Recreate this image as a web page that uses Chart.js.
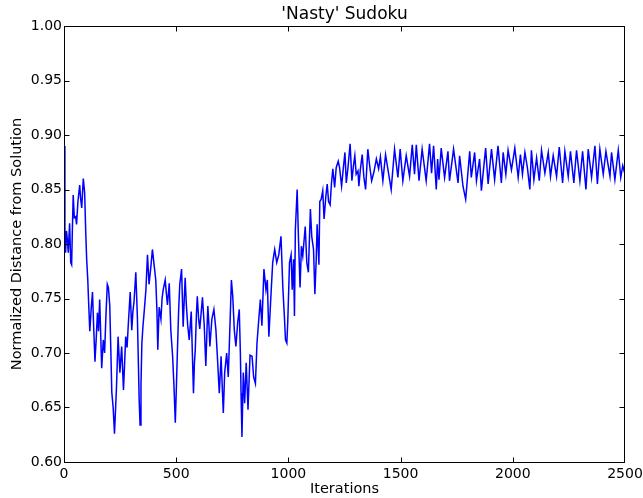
<!DOCTYPE html>
<html>
<head>
<meta charset="utf-8">
<script src="https://cdn.jsdelivr.net/npm/chart.js@4.4.1/dist/chart.umd.min.js"></script>
<style>
  html, body { margin: 0; padding: 0; background: #fff; }
  #wrap { width: 643px; height: 498px; }
</style>
</head>
<body>
<div id="wrap"><canvas id="chart" width="643" height="498"></canvas></div>
<script>
// [iteration, normalized distance], one array per phase
const phaseStart = [
  [0, 0.890], [4, 0.800], [7, 0.792], [11, 0.812], [15, 0.804], [19, 0.792], [25, 0.819],
  [30, 0.783], [34, 0.781], [37, 0.810], [41, 0.845], [46, 0.824], [52, 0.825], [56, 0.818],
  [62, 0.839], [70, 0.854], [74, 0.842], [79, 0.833], [86, 0.860], [92, 0.847], [97, 0.810],
  [101, 0.786], [106, 0.767], [110, 0.745]
];
const phaseValley = [
  [115, 0.720], [121, 0.740], [127, 0.756], [132, 0.725], [138, 0.692], [144, 0.715],
  [149, 0.737], [154, 0.720], [159, 0.749], [168, 0.686], [175, 0.712], [181, 0.700],
  [187, 0.735], [193, 0.763], [198, 0.760], [204, 0.743], [209, 0.700], [213, 0.664],
  [219, 0.650], [225, 0.626], [230, 0.650], [234, 0.669], [241, 0.715], [249, 0.682],
  [257, 0.706], [265, 0.666], [270, 0.690], [275, 0.715], [281, 0.705], [287, 0.728],
  [295, 0.756], [302, 0.721], [307, 0.738], [312, 0.747], [320, 0.774], [327, 0.733],
  [335, 0.657], [339, 0.634], [343, 0.670], [347, 0.709], [352, 0.725], [357, 0.737],
  [365, 0.758], [372, 0.790], [379, 0.763], [387, 0.779], [394, 0.795], [402, 0.780],
  [409, 0.767], [414, 0.740], [418, 0.703], [424, 0.742], [432, 0.731], [437, 0.750],
  [442, 0.758], [451, 0.767], [456, 0.755], [461, 0.744], [469, 0.764], [476, 0.721],
  [484, 0.697], [490, 0.670], [496, 0.636], [501, 0.670], [506, 0.706], [511, 0.740],
  [516, 0.763], [524, 0.777], [531, 0.724], [536, 0.750], [540, 0.769], [545, 0.745],
  [551, 0.726], [558, 0.712], [567, 0.738], [572, 0.700], [577, 0.663], [581, 0.690],
  [585, 0.703], [590, 0.735], [594, 0.752], [600, 0.731], [605, 0.722], [610, 0.734],
  [617, 0.751], [625, 0.725], [632, 0.688], [637, 0.720], [641, 0.743], [646, 0.725],
  [650, 0.706], [655, 0.720], [659, 0.731], [668, 0.740], [677, 0.721], [685, 0.691],
  [692, 0.663], [700, 0.697], [705, 0.670], [710, 0.645], [716, 0.682], [725, 0.700],
  [732, 0.678], [740, 0.728], [746, 0.767], [752, 0.752], [759, 0.721], [766, 0.706],
  [774, 0.728], [781, 0.740], [786, 0.700], [789, 0.663], [793, 0.623], [799, 0.682],
  [805, 0.654], [812, 0.691], [820, 0.648], [829, 0.698], [838, 0.697], [845, 0.678],
  [853, 0.672], [860, 0.709], [868, 0.731], [875, 0.749], [882, 0.725], [891, 0.777],
  [900, 0.758], [906, 0.767], [913, 0.715], [922, 0.752], [930, 0.783], [939, 0.795],
  [948, 0.783], [957, 0.790]
];
const phaseClimb = [
  [967, 0.807], [975, 0.761], [982, 0.734], [987, 0.712], [993, 0.709], [997, 0.728],
  [1005, 0.783], [1012, 0.790], [1017, 0.758], [1023, 0.786], [1027, 0.734], [1031, 0.813],
  [1039, 0.850], [1045, 0.804], [1052, 0.760], [1058, 0.798], [1064, 0.789], [1075, 0.816],
  [1082, 0.783], [1089, 0.774], [1098, 0.832], [1104, 0.807], [1112, 0.795], [1118, 0.754],
  [1124, 0.786], [1128, 0.818], [1136, 0.781], [1140, 0.839], [1146, 0.841], [1153, 0.849],
  [1159, 0.823], [1167, 0.844], [1173, 0.855], [1179, 0.839], [1186, 0.836], [1192, 0.856],
  [1198, 0.869], [1206, 0.852], [1213, 0.870], [1222, 0.876], [1228, 0.870], [1237, 0.853],
  [1243, 0.866], [1252, 0.884], [1258, 0.856], [1265, 0.869], [1275, 0.892], [1283, 0.858],
  [1290, 0.872], [1296, 0.881], [1302, 0.864], [1310, 0.867], [1314, 0.853]
];
const phasePlateau = [
  [1321, 0.869], [1329, 0.882], [1336, 0.862], [1344, 0.850], [1354, 0.887], [1362, 0.872],
  [1371, 0.858], [1381, 0.866], [1392, 0.878], [1402, 0.869], [1410, 0.880], [1421, 0.858],
  [1433, 0.882], [1458, 0.850], [1473, 0.887], [1488, 0.861], [1498, 0.887], [1510, 0.858],
  [1525, 0.881], [1540, 0.862], [1552, 0.891], [1562, 0.864], [1570, 0.891], [1582, 0.858],
  [1596, 0.887], [1614, 0.858], [1629, 0.892], [1638, 0.865], [1647, 0.890], [1659, 0.850],
  [1665, 0.878], [1671, 0.859], [1681, 0.888], [1696, 0.861], [1711, 0.885], [1718, 0.858],
  [1736, 0.887], [1756, 0.856], [1763, 0.881], [1778, 0.853], [1790, 0.841], [1808, 0.885],
  [1815, 0.861], [1830, 0.884], [1838, 0.858], [1852, 0.878], [1860, 0.849], [1879, 0.888],
  [1890, 0.855], [1905, 0.887], [1919, 0.859], [1934, 0.890], [1949, 0.856], [1957, 0.884],
  [1969, 0.864], [1979, 0.886], [1994, 0.868], [2009, 0.888], [2024, 0.861], [2034, 0.882],
  [2043, 0.864], [2054, 0.884], [2065, 0.870], [2076, 0.850], [2083, 0.886], [2094, 0.859],
  [2106, 0.879], [2118, 0.858], [2128, 0.886], [2143, 0.865], [2158, 0.884], [2168, 0.862],
  [2180, 0.881], [2195, 0.862], [2207, 0.889], [2222, 0.856], [2232, 0.885], [2247, 0.862],
  [2257, 0.885], [2272, 0.856], [2284, 0.886], [2299, 0.858], [2311, 0.885], [2326, 0.850],
  [2336, 0.887], [2351, 0.861], [2366, 0.890], [2377, 0.855], [2388, 0.887], [2403, 0.864],
  [2415, 0.885], [2433, 0.862], [2440, 0.884], [2455, 0.859], [2470, 0.886], [2481, 0.861],
  [2490, 0.872], [2500, 0.864]
];

const xTicks = [0, 500, 1000, 1500, 2000, 2500];
const yTicks = [0.60, 0.65, 0.70, 0.75, 0.80, 0.85, 0.90, 0.95, 1.00];
const yTickLabels = ['0.60', '0.65', '0.70', '0.75', '0.80', '0.85', '0.90', '0.95', '1.00'];

const points = [...phaseStart, ...phaseValley, ...phaseClimb, ...phasePlateau]
  .map(([it, d]) => ({ x: it, y: d }));

const FONT = 'DejaVu Sans';

// matplotlib-like box with inward ticks on all four sides
const boxTicks = {
  id: 'boxTicks',
  afterDatasetsDraw(chart) {
    const { ctx, chartArea: a, scales: { x, y } } = chart;
    const L = Math.round(a.left) + 0.5, R = Math.round(a.right) - 0.5;
    const T = Math.round(a.top) + 0.5, B = Math.round(a.bottom) + 0.5;
    const len = 5;
    ctx.save();
    ctx.strokeStyle = '#000';
    ctx.lineWidth = 1;
    ctx.beginPath();
    xTicks.forEach(v => {
      const px = Math.min(Math.round(x.getPixelForValue(v)) + 0.5, R);
      ctx.moveTo(px, B); ctx.lineTo(px, B - len);
      ctx.moveTo(px, T); ctx.lineTo(px, T + len);
    });
    yTicks.forEach(v => {
      const py = Math.round(y.getPixelForValue(v)) + 0.5;
      ctx.moveTo(L, py); ctx.lineTo(L + len, py);
      ctx.moveTo(R, py); ctx.lineTo(R - len, py);
    });
    ctx.stroke();
    ctx.strokeRect(L, T, R - L, B - T);
    ctx.restore();
  }
};

new Chart(document.getElementById('chart'), {
  type: 'line',
  data: {
    datasets: [{
      data: points,
      borderColor: '#0000ff',
      borderWidth: 1.5,
      pointRadius: 0,
      tension: 0,
      fill: false
    }]
  },
  options: {
    responsive: false,
    animation: false,
    events: [],
    layout: { padding: { left: 0, right: 18, top: 0, bottom: 0 } },
    plugins: {
      legend: { display: false },
      tooltip: { enabled: false },
      title: {
        display: true,
        text: "'Nasty' Sudoku",
        fullSize: false,
        color: '#000',
        font: { family: FONT, size: 17, weight: 'normal', lineHeight: 1.2 },
        padding: { top: 4, bottom: 1.6 }
      }
    },
    scales: {
      x: {
        type: 'linear',
        min: 0,
        max: 2500,
        afterFit: s => { s.height = 36; s.paddingLeft = 0; s.paddingRight = 0; },
        afterBuildTicks: s => { s.ticks = xTicks.map(v => ({ value: v })); },
        grid: { display: false, drawTicks: false },
        border: { display: false },
        ticks: {
          color: '#000',
          padding: 4,
          maxRotation: 0,
          font: { family: FONT, size: 14 },
          callback: v => String(v)
        },
        title: {
          display: true,
          text: 'Iterations',
          color: '#000',
          font: { family: FONT, size: 14.5, lineHeight: 1.2 },
          padding: { top: 0, bottom: 0 }
        }
      },
      y: {
        type: 'linear',
        min: 0.6,
        max: 1.0,
        afterFit: s => { s.width = 64; s.paddingTop = 0; s.paddingBottom = 0; },
        afterBuildTicks: s => { s.ticks = yTicks.map(v => ({ value: v })); },
        grid: { display: false, drawTicks: false },
        border: { display: false },
        ticks: {
          color: '#000',
          padding: 2,
          font: { family: FONT, size: 14 },
          callback: (v, i) => yTickLabels[i]
        },
        title: {
          display: true,
          text: 'Normalized Distance from Solution',
          color: '#000',
          font: { family: FONT, size: 14.5, lineHeight: 1.2 },
          padding: { top: 9, bottom: 0 }
        }
      }
    }
  },
  plugins: [boxTicks]
});
</script>
</body>
</html>
